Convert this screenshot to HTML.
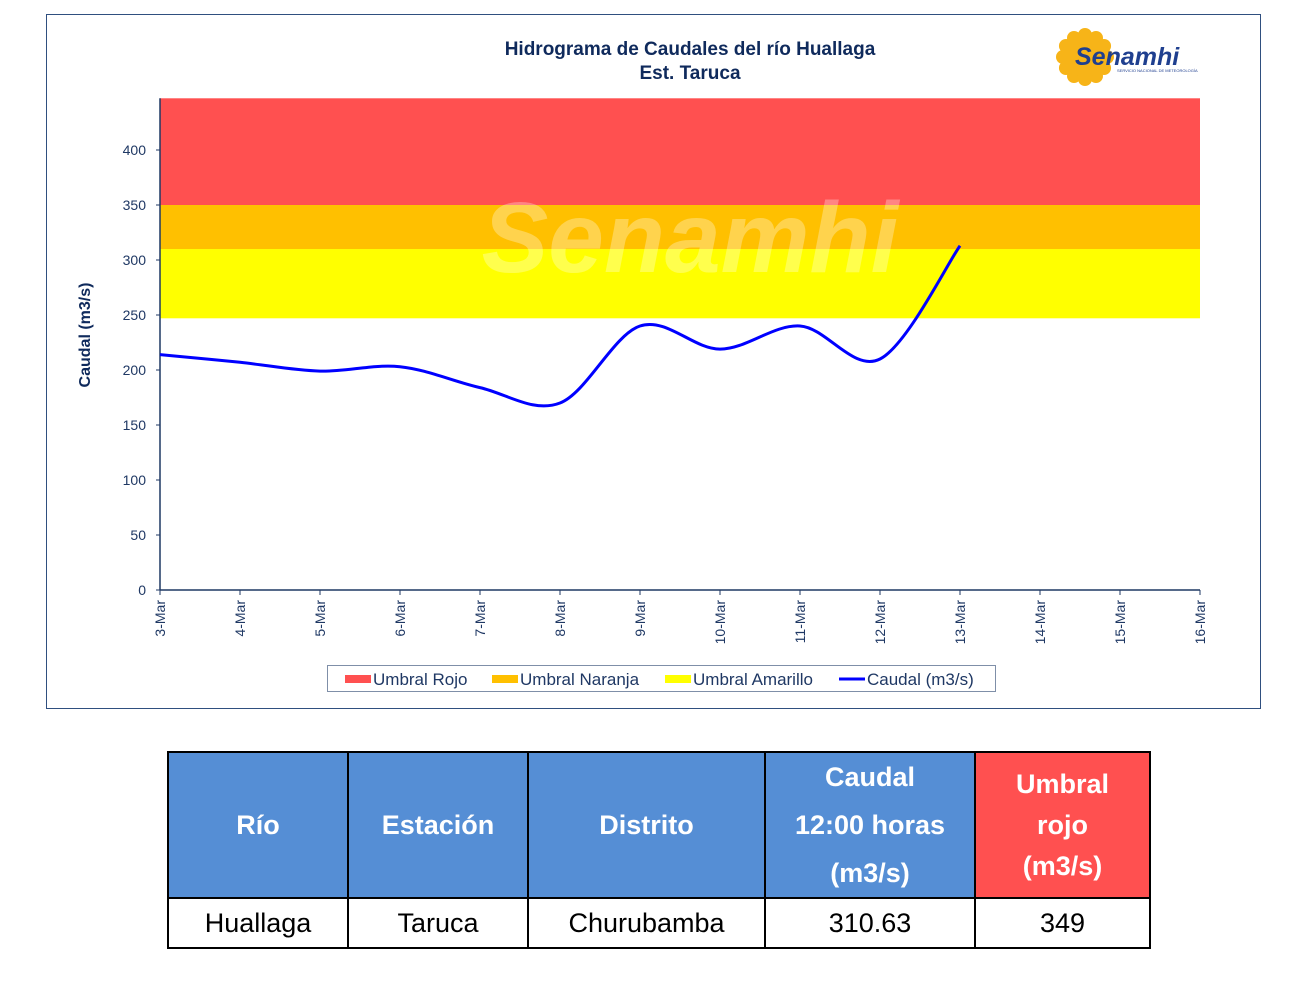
<!DOCTYPE html>
<html><head><meta charset="utf-8"><style>
body{margin:0;width:1291px;height:983px;background:#fff;font-family:"Liberation Sans",sans-serif;position:relative;overflow:hidden}
#frame{position:absolute;left:46px;top:14px;width:1215px;height:695px;border:1px solid #2f4f7f;box-sizing:border-box}
table{position:absolute;left:167px;top:751px;border-collapse:collapse;table-layout:fixed;width:982px;font-family:"Liberation Sans",sans-serif}
td{border:2.5px solid #000;text-align:center;font-size:27px;padding:0}
.h{background:#558ED5;color:#fff;font-weight:bold;height:143px}
.r{background:#FF5050}
.d{height:48px;color:#000}
</style></head><body>
<div id="frame"></div>
<svg id="chart" width="1291" height="710" style="position:absolute;left:0;top:0"></svg>
<table>
<colgroup><col style="width:180px"><col style="width:180px"><col style="width:237px"><col style="width:210px"><col style="width:175px"></colgroup>
<tr><td class="h">Río</td>
<td class="h">Estación</td>
<td class="h">Distrito</td>
<td class="h" style="line-height:48px">Caudal<br>12:00 horas<br>(m3/s)</td>
<td class="h r" style="line-height:41px">Umbral<br>rojo<br>(m3/s)</td></tr>
<tr><td class="d">Huallaga</td>
<td class="d">Taruca</td>
<td class="d">Churubamba</td>
<td class="d">310.63</td>
<td class="d">349</td></tr>
</table>
<script>
const categories=["3-Mar","4-Mar","5-Mar","6-Mar","7-Mar","8-Mar","9-Mar","10-Mar","11-Mar","12-Mar","13-Mar","14-Mar","15-Mar","16-Mar"];
const caudal=[214,207,199,203,184,170,240,219,240,210,313];
const yTicks=[0,50,100,150,200,250,300,350,400];
const thresholds=[247,310,350,447];
const NS="http://www.w3.org/2000/svg";
const svg=document.getElementById('chart');
const L=160,R=1200,B=590;
const x=i=>L+i*(R-L)/(categories.length-1);
const y=v=>B-v*1.1;
function mk(t,a,p){const e=document.createElementNS(NS,t);for(const k in a)e.setAttribute(k,a[k]);(p||svg).appendChild(e);return e;}
let e;
e=mk('rect',{x:L,y:y(thresholds[3]),width:R-L,height:y(thresholds[2])-y(thresholds[3]),fill:'#FF5050'});

e=mk('rect',{x:L,y:y(thresholds[2]),width:R-L,height:y(thresholds[1])-y(thresholds[2]),fill:'#FFC000'});

e=mk('rect',{x:L,y:y(thresholds[1]),width:R-L,height:y(thresholds[0])-y(thresholds[1]),fill:'#FFFF00'});

e=mk('text',{x:690,y:272,'font-size':100,'font-weight':'bold','font-style':'italic','text-anchor':'middle',fill:'#fff','fill-opacity':0.3});
e.textContent='Senamhi';
mk('line',{x1:L,y1:y(thresholds[3]),x2:L,y2:B,stroke:'#1F3864','stroke-width':1.5});
mk('line',{x1:L,y1:B,x2:R,y2:B,stroke:'#1F3864','stroke-width':1.5});
yTicks.forEach(v=>{const t=mk('text',{x:146,y:y(v)+5,'font-size':14,'text-anchor':'end',fill:'#1F3864'});t.textContent=v;

mk('line',{x1:L-4,y1:y(v),x2:L,y2:y(v),stroke:'#1F3864'});});
categories.forEach((c,i)=>{mk('line',{x1:x(i),y1:B,x2:x(i),y2:B+5,stroke:'#1F3864'});
const t=mk('text',{transform:`translate(${x(i)+5},${B+10}) rotate(-90)`,'font-size':14,'text-anchor':'end',fill:'#1F3864'});t.textContent=c;
});
const pts=caudal.map((v,i)=>[x(i),y(v)]);
let d=`M${pts[0][0]},${pts[0][1]}`;
for(let i=0;i<pts.length-1;i++){const p0=pts[i-1]||pts[i],p1=pts[i],p2=pts[i+1],p3=pts[i+2]||p2;
d+=` C${p1[0]+(p2[0]-p0[0])/6},${p1[1]+(p2[1]-p0[1])/6} ${p2[0]-(p3[0]-p1[0])/6},${p2[1]-(p3[1]-p1[1])/6} ${p2[0]},${p2[1]}`;}
e=mk('path',{d:d,fill:'none',stroke:'#0000FF','stroke-width':3});

e=mk('text',{x:690,y:55,'font-size':19,'font-weight':'bold','text-anchor':'middle',fill:'#0F2A5C'});e.textContent='Hidrograma de Caudales del río Huallaga';

e=mk('text',{x:690,y:79,'font-size':19,'font-weight':'bold','text-anchor':'middle',fill:'#0F2A5C'});e.textContent='Est. Taruca';

e=mk('text',{transform:'translate(90,335) rotate(-90)','font-size':16,'font-weight':'bold','text-anchor':'middle',fill:'#0F2A5C'});e.textContent='Caudal (m3/s)';

const g=mk('g',{});
for(let k=0;k<12;k++){const a=k*Math.PI/6;mk('circle',{cx:1085+22*Math.cos(a),cy:57+22*Math.sin(a),r:7,fill:'#F7B418'},g);}
mk('circle',{cx:1085,cy:57,r:20,fill:'#F7B418'},g);
e=mk('text',{x:1075,y:65,'font-size':25,'font-weight':'bold','font-style':'italic',fill:'#1F3F8F'},g);e.textContent='Senamhi';
e=mk('text',{x:1117,y:72,'font-size':4,fill:'#1F3F8F'},g);e.textContent='SERVICIO NACIONAL DE METEOROLOGÍA';
const lg=mk('g',{});
mk('rect',{x:327.5,y:665.5,width:668,height:26,fill:'#fff',stroke:'#7f8fa8'},lg);
[['Umbral Rojo','#FF5050',345],['Umbral Naranja','#FFC000',492],['Umbral Amarillo','#FFFF00',665]].forEach(([n,c,px])=>{
const r=mk('rect',{x:px,y:675,width:26,height:8,fill:c},lg);
const t=mk('text',{x:px+28,y:685,'font-size':17,fill:'#1F3864'},lg);t.textContent=n;});
mk('line',{x1:839,y1:679,x2:865,y2:679,stroke:'#0000FF','stroke-width':3},lg);
e=mk('text',{x:867,y:685,'font-size':17,fill:'#1F3864'},lg);e.textContent='Caudal (m3/s)';

</script>
</body></html>
